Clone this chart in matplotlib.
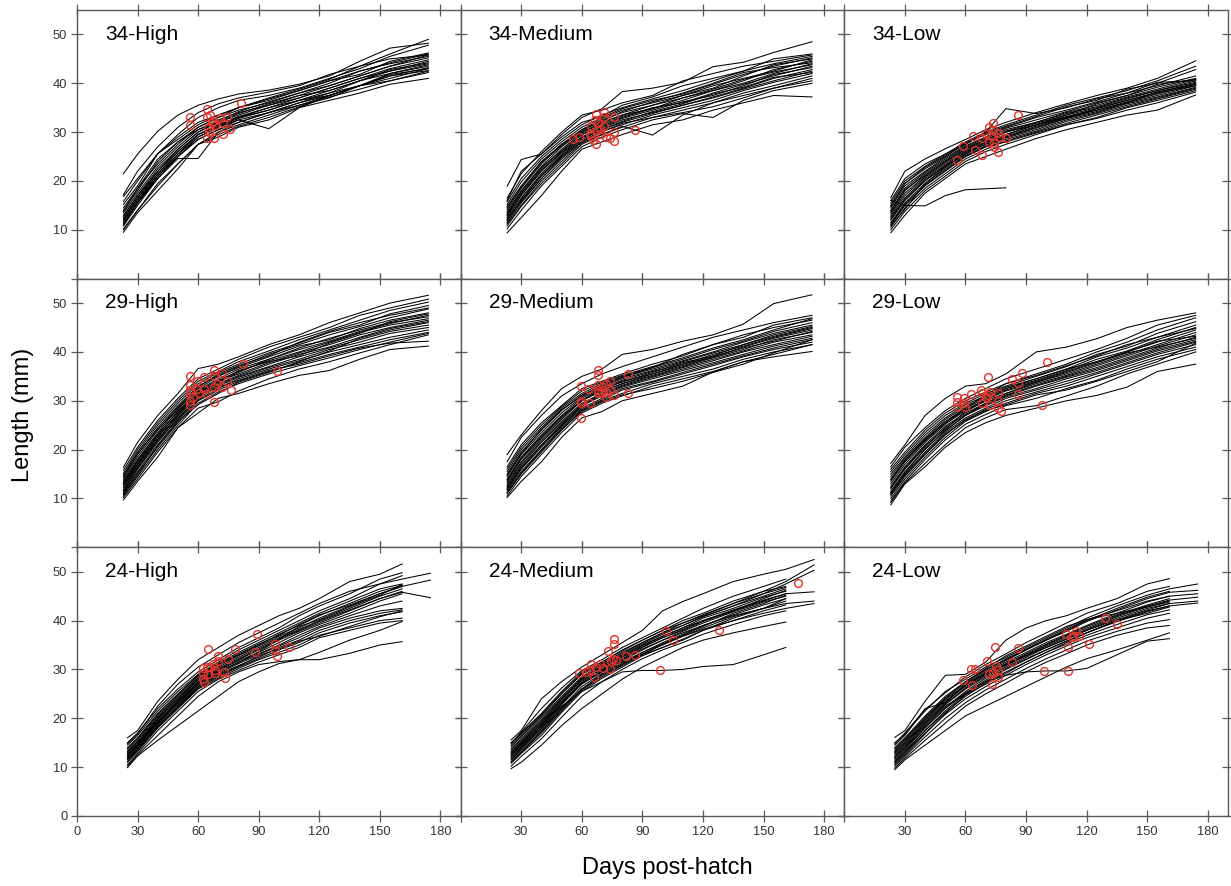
import matplotlib
matplotlib.use("Agg")
import matplotlib.pyplot as plt

plt.rcParams['font.family'] = ['Liberation Sans', 'DejaVu Sans']

# Sampling days of the individual growth trajectories
days_early = [23, 30, 40, 50, 60, 70, 80, 95, 110, 125, 140, 155, 174]
days_late = [25, 30, 40, 50, 60, 70, 80, 90, 100, 110, 120, 135, 150, 161, 175]

# ---- 34 degC -------------------------------------------------------------
len_34_high = [
    [21.5, 25.5, 30.2, 33.5, 35.5, 36.8, 37.8, 38.6, 39.8, 41.5, 44.5, 47.2, 48.2],
    [17.2, 22.0, 27.0, 31.0, 34.0, 35.8, 37.0, 38.2, 39.5, 41.8, 43.5, 46.0, 49.0],
    [16.8, 20.5, 25.6, 29.5, 33.0, 35.0, 36.5, 37.5, 39.0, 41.0, 43.0, 45.5, 47.8],
    [15.2, 19.0, 25.6, 28.5, 31.5, 33.5, 35.0, 36.5, 38.5, 40.5, 42.5, 44.2, 46.0],
    [14.5, 18.5, 23.5, 27.5, 31.0, 33.0, 34.5, 36.0, 38.0, 40.0, 42.5, 44.0, 45.5],
    [14.0, 18.0, 24.0, 28.0, 30.5, 32.5, 34.0, 35.5, 37.5, 39.5, 41.5, 43.5, 45.2],
    [13.5, 17.5, 23.0, 27.0, 30.5, 32.0, 33.5, 35.5, 37.0, 39.0, 41.0, 43.0, 44.8],
    [13.0, 17.0, 22.5, 26.5, 30.0, 32.0, 33.8, 35.8, 37.5, 38.5, 40.5, 42.5, 44.5],
    [12.5, 16.5, 22.0, 26.0, 29.5, 31.5, 33.0, 34.5, 36.5, 38.5, 40.5, 42.8, 44.2],
    [12.2, 16.5, 21.5, 26.0, 29.5, 31.5, 33.2, 35.0, 36.5, 37.5, 39.5, 42.0, 43.8],
    [12.0, 16.0, 21.5, 25.5, 29.0, 31.0, 32.5, 34.0, 36.0, 38.0, 40.5, 42.0, 43.5],
    [11.5, 15.5, 21.0, 25.0, 29.0, 31.0, 32.8, 34.5, 36.5, 38.0, 39.5, 41.5, 43.2],
    [11.2, 15.5, 21.0, 25.0, 28.5, 30.5, 32.0, 34.0, 35.5, 37.5, 39.5, 41.0, 43.0],
    [11.0, 15.5, 20.5, 24.6, 24.6, 30.0, 32.0, 34.0, 36.0, 37.5, 39.5, 41.5, 42.6],
    [10.8, 15.0, 20.5, 25.0, 28.5, 30.5, 32.5, 30.7, 35.0, 37.5, 39.5, 41.8, 43.0],
    [10.2, 14.0, 19.5, 23.5, 27.5, 30.0, 31.5, 33.5, 35.5, 37.0, 39.5, 40.5, 42.2],
    [9.5, 13.5, 18.0, 22.5, 27.5, 29.0, 31.0, 32.5, 35.0, 36.5, 38.0, 39.8, 41.0],
    [12.8, 17.0, 22.0, 26.5, 30.0, 32.2, 34.2, 36.2, 38.0, 39.5, 41.5, 43.5, 45.8],
    [13.8, 18.5, 24.5, 28.0, 31.0, 33.0, 35.0, 36.8, 38.5, 40.5, 41.8, 44.5, 46.2],
    [11.8, 16.0, 21.0, 25.5, 29.5, 31.2, 33.0, 35.0, 37.0, 39.0, 41.0, 42.5, 44.0],
    [15.8, 20.0, 25.6, 29.0, 32.0, 33.5, 35.0, 37.0, 38.8, 40.8, 43.5, 45.0, 45.8],
    [10.0, 14.0, 19.0, 23.5, 27.5, 29.5, 31.2, 33.0, 35.2, 37.2, 38.8, 40.5, 42.5],
]
obs_34_high_day = [55.9, 55.9, 64.2, 64.2, 64.5, 65.0, 65.5, 67.5, 68.0, 68.3, 70.8, 72.1,
                   72.1, 74.1, 75.7, 81.0, 66.0, 66.8]
obs_34_high_len = [33.0, 31.4, 34.8, 33.0, 28.7, 30.9, 30.1, 32.3, 28.7, 31.4, 32.8, 31.8,
                   29.7, 33.1, 30.7, 36.0, 33.5, 31.8]

len_34_medium = [
    [18.9, 24.4, 25.5, 29.5, 33.0, 34.8, 38.3, 39.0, 40.2, 43.4, 44.3, 46.3, 48.5],
    [16.5, 21.5, 26.0, 30.0, 33.5, 34.5, 36.0, 37.5, 40.5, 42.0, 43.5, 44.5, 45.8],
    [15.8, 20.5, 25.0, 28.5, 31.5, 33.5, 35.0, 36.8, 38.5, 40.5, 42.5, 44.0, 45.5],
    [15.2, 19.8, 24.5, 28.0, 31.0, 33.0, 34.8, 36.5, 37.8, 39.8, 41.8, 43.5, 45.2],
    [14.8, 19.0, 24.0, 27.5, 30.5, 32.8, 34.5, 36.0, 37.5, 39.0, 41.5, 43.8, 45.0],
    [14.2, 18.5, 23.5, 27.5, 30.2, 32.5, 34.0, 35.5, 37.5, 39.5, 41.0, 42.5, 44.8],
    [13.8, 18.0, 23.0, 27.0, 30.0, 32.0, 33.5, 35.5, 37.0, 38.5, 40.5, 42.8, 44.5],
    [13.5, 17.5, 22.5, 26.5, 29.8, 31.8, 33.5, 34.8, 36.5, 38.5, 40.0, 42.0, 44.0],
    [13.0, 17.2, 22.2, 26.0, 29.5, 31.5, 33.2, 35.0, 36.0, 38.0, 39.8, 41.5, 43.5],
    [12.8, 17.0, 22.0, 25.8, 29.0, 31.0, 32.8, 34.5, 36.2, 37.5, 39.5, 41.8, 43.2],
    [12.5, 16.5, 21.5, 25.5, 29.0, 30.8, 32.5, 34.0, 35.5, 37.2, 39.0, 41.0, 42.8],
    [12.2, 16.0, 21.0, 25.0, 28.5, 30.5, 32.0, 33.8, 35.5, 37.0, 38.8, 40.5, 42.5],
    [12.0, 15.8, 20.5, 24.8, 28.2, 30.2, 31.5, 33.5, 35.0, 36.5, 38.5, 40.2, 42.0],
    [11.5, 15.5, 20.5, 24.5, 28.0, 30.0, 31.8, 33.0, 34.5, 36.0, 38.0, 39.5, 41.5],
    [11.2, 15.0, 20.0, 24.0, 27.8, 29.5, 31.2, 29.4, 33.5, 36.0, 37.5, 39.0, 41.0],
    [10.8, 14.8, 19.5, 23.5, 27.5, 29.5, 31.0, 33.0, 34.0, 35.2, 37.0, 39.0, 40.5],
    [10.2, 14.0, 19.0, 23.0, 27.0, 29.0, 30.5, 32.5, 33.8, 33.0, 36.5, 38.5, 40.0],
    [9.4, 12.5, 17.0, 22.0, 26.5, 28.0, 29.5, 31.5, 32.5, 34.5, 36.0, 37.5, 37.2],
    [14.5, 18.8, 23.8, 27.2, 30.5, 32.2, 34.2, 36.2, 38.0, 40.0, 42.2, 43.2, 44.2],
    [13.2, 17.8, 22.8, 26.2, 29.5, 31.2, 33.0, 34.8, 37.0, 38.8, 40.8, 42.3, 43.8],
    [11.8, 16.2, 21.2, 25.2, 28.8, 30.5, 32.2, 34.2, 35.8, 37.8, 39.2, 41.2, 42.2],
    [16.0, 22.0, 25.5, 29.0, 32.0, 33.2, 35.5, 37.2, 39.5, 41.0, 42.5, 45.0, 46.0],
]
obs_34_medium_day = [55.6, 58.6, 66.8, 70.8, 70.8, 75.7, 64.7, 66.3, 67.5, 63.9, 64.7, 65.5,
                     66.8, 68.8, 70.8, 71.8, 73.8, 75.7, 75.7, 86.1, 68.0, 69.6]
obs_34_medium_len = [28.5, 29.0, 33.7, 34.2, 33.1, 33.1, 31.2, 32.4, 30.4, 29.7, 29.2, 28.3,
                     27.5, 30.7, 31.2, 29.0, 28.7, 30.1, 28.2, 30.4, 31.9, 29.7]

len_34_low = [
    [16.6, 22.0, 24.5, 26.6, 28.5, 30.5, 32.0, 34.0, 35.8, 37.5, 39.0, 41.0, 44.6],
    [16.0, 20.5, 23.5, 25.5, 28.0, 30.0, 31.5, 33.5, 35.5, 37.0, 38.5, 40.5, 43.5],
    [15.5, 20.0, 23.0, 25.5, 27.5, 29.8, 31.2, 33.2, 35.2, 36.5, 38.8, 40.0, 42.8],
    [15.0, 19.5, 22.5, 25.0, 27.8, 29.5, 31.0, 33.0, 34.5, 36.2, 38.0, 39.5, 41.5],
    [14.5, 19.0, 22.0, 24.8, 27.2, 29.0, 30.8, 32.5, 34.2, 36.0, 37.5, 39.2, 41.0],
    [14.0, 18.5, 21.8, 24.5, 27.0, 28.8, 30.5, 32.0, 34.0, 35.5, 37.2, 38.8, 40.8],
    [13.5, 18.0, 21.5, 24.2, 26.8, 28.5, 30.2, 32.0, 33.8, 35.2, 37.0, 38.5, 40.5],
    [13.2, 17.5, 21.0, 23.8, 26.5, 28.2, 30.0, 31.8, 33.5, 35.0, 36.8, 38.5, 40.2],
    [12.8, 17.0, 20.8, 23.5, 26.2, 28.0, 29.5, 31.5, 33.2, 34.8, 36.5, 38.2, 40.0],
    [12.5, 16.5, 20.5, 23.2, 26.0, 27.8, 29.2, 31.2, 33.0, 34.5, 36.2, 37.8, 39.8],
    [12.0, 16.0, 20.0, 23.0, 25.5, 27.5, 29.0, 31.0, 32.8, 34.2, 36.0, 37.5, 39.5],
    [11.5, 15.5, 19.5, 22.5, 25.2, 27.2, 28.8, 30.5, 32.5, 34.0, 35.8, 37.2, 39.2],
    [11.0, 15.0, 19.0, 22.0, 25.0, 27.0, 28.5, 30.2, 32.2, 33.8, 35.5, 37.0, 39.0],
    [10.5, 14.5, 18.5, 21.5, 24.5, 26.5, 28.2, 30.0, 31.8, 33.5, 35.2, 36.8, 38.8],
    [10.0, 13.8, 18.0, 21.0, 24.0, 26.0, 27.5, 29.5, 31.5, 33.0, 35.0, 36.5, 38.5],
    [9.4, 13.0, 17.5, 20.5, 23.5, 25.0, 26.5, 28.7, 30.5, 32.0, 33.5, 34.5, 37.6],
    [14.8, 19.5, 22.8, 25.2, 27.5, 30.0, 34.8, 33.8, 35.0, 36.8, 38.0, 40.2, 40.5],
    [13.8, 18.2, 21.2, 24.0, 26.5, 28.5, 30.0, 31.5, 33.5, 35.8, 37.5, 39.8, 40.8],
    [12.2, 16.2, 20.2, 23.0, 25.8, 27.5, 29.0, 30.8, 32.8, 34.8, 36.5, 38.0, 39.5],
    [11.2, 15.2, 19.2, 22.2, 25.0, 27.0, 28.0, 29.8, 31.5, 32.8, 34.5, 36.0, 38.2],
    [16.0, 15.0, 14.9, 17.0, 18.2, 18.4, 18.6],
    [10.8, 14.2, 19.5, 22.8, 25.5, 28.0, 29.5, 31.5, 33.0, 34.5, 36.0, 38.2, 39.8],
]
obs_34_low_day = [55.8, 58.9, 63.9, 64.9, 68.0, 68.0, 71.5, 73.8, 73.8, 71.8, 72.6, 74.3,
                  74.3, 75.9, 77.1, 80.0, 75.9, 86.0, 70.1]
obs_34_low_len = [24.2, 27.2, 29.2, 26.3, 25.3, 28.7, 31.1, 31.9, 30.5, 28.0, 29.2, 27.7,
                  27.0, 29.9, 29.0, 28.7, 26.0, 33.6, 29.7]

# ---- 29 degC -------------------------------------------------------------
len_29_high = [
    [16.4, 21.5, 27.0, 31.5, 36.6, 37.5, 39.0, 41.5, 43.5, 46.0, 48.0, 50.0, 51.6],
    [15.8, 20.5, 26.0, 30.5, 34.5, 36.5, 38.5, 41.0, 43.0, 45.0, 47.5, 49.0, 50.8],
    [15.2, 20.0, 25.5, 30.0, 34.0, 36.0, 38.0, 40.2, 42.5, 44.5, 46.5, 48.5, 50.2],
    [14.8, 19.5, 25.0, 29.5, 33.5, 35.8, 37.5, 39.8, 41.8, 44.0, 45.5, 47.8, 49.5],
    [14.2, 19.0, 24.5, 29.0, 33.0, 35.2, 37.0, 39.5, 41.5, 43.5, 45.2, 47.0, 48.8],
    [13.8, 18.5, 24.0, 28.8, 32.5, 35.0, 36.8, 39.0, 41.2, 42.5, 44.8, 46.5, 48.0],
    [13.5, 18.0, 23.5, 28.5, 32.2, 34.5, 36.5, 38.5, 40.8, 42.8, 44.5, 46.0, 47.2],
    [13.0, 17.5, 23.0, 28.0, 32.0, 34.2, 36.0, 38.2, 40.0, 42.0, 44.0, 45.5, 46.8],
    [12.5, 17.0, 22.5, 27.5, 31.5, 34.0, 35.5, 37.8, 39.8, 41.5, 43.5, 45.0, 46.5],
    [12.2, 16.8, 22.2, 27.0, 31.2, 33.5, 35.2, 37.5, 39.5, 41.0, 43.0, 44.8, 46.2],
    [11.8, 16.5, 22.0, 26.8, 31.0, 33.2, 35.0, 37.0, 39.0, 40.8, 42.5, 44.2, 45.5],
    [11.5, 16.0, 21.5, 26.5, 30.5, 33.0, 34.8, 36.8, 38.5, 40.5, 42.0, 43.8, 45.0],
    [11.2, 15.5, 21.0, 26.0, 30.2, 32.5, 34.5, 36.5, 38.2, 40.0, 41.5, 43.0, 44.5],
    [11.0, 15.2, 20.5, 25.5, 30.0, 32.2, 34.0, 36.0, 37.8, 39.5, 41.0, 42.5, 44.0],
    [10.5, 14.5, 20.0, 25.0, 29.5, 31.8, 33.5, 35.5, 37.2, 38.8, 40.5, 42.0, 43.8],
    [10.2, 14.0, 19.5, 24.5, 28.5, 29.8, 32.0, 34.5, 36.5, 38.0, 39.8, 41.5, 43.5],
    [9.7, 13.5, 18.5, 24.5, 27.5, 30.5, 31.5, 33.5, 35.2, 36.2, 38.5, 40.5, 41.2],
    [14.5, 19.2, 24.2, 28.2, 32.8, 35.5, 37.2, 39.2, 42.0, 44.2, 46.0, 47.5, 49.0],
    [12.8, 17.2, 22.8, 27.2, 31.8, 33.8, 35.8, 38.5, 40.5, 42.2, 44.2, 45.8, 47.5],
    [11.6, 16.2, 21.8, 26.2, 30.8, 32.8, 34.2, 36.2, 37.5, 39.2, 40.8, 41.8, 42.2],
    [10.8, 14.8, 20.8, 25.8, 29.2, 31.5, 33.8, 35.8, 38.0, 40.2, 42.8, 44.5, 46.0],
    [13.2, 17.8, 23.2, 27.8, 31.5, 33.8, 36.2, 38.0, 39.2, 41.8, 43.8, 46.2, 47.8],
]
obs_29_high_day = [55.9, 55.9, 55.9, 55.9, 55.9, 55.9, 59.2, 59.2, 60.4, 63.0, 63.0, 64.2,
                   68.0, 68.0, 68.0, 68.0, 69.5, 71.6, 71.6, 74.1, 76.1, 82.0, 99.2, 57.6]
obs_29_high_len = [35.0, 33.2, 32.2, 31.5, 30.0, 29.1, 34.0, 32.5, 31.5, 34.9, 32.5, 31.3,
                   36.4, 35.0, 32.8, 29.8, 33.4, 35.7, 32.8, 34.1, 32.2, 37.6, 36.0, 30.7]

len_29_medium = [
    [19.0, 23.0, 28.0, 32.5, 35.0, 36.5, 39.5, 40.5, 42.2, 43.5, 45.7, 49.9, 51.7],
    [17.5, 22.5, 27.0, 31.0, 33.5, 35.5, 37.0, 39.0, 41.0, 43.0, 44.5, 46.0, 47.5],
    [16.5, 21.0, 25.5, 29.0, 32.5, 34.0, 35.5, 37.5, 39.2, 41.5, 43.0, 45.5, 47.0],
    [16.0, 20.5, 25.0, 28.8, 32.0, 33.8, 35.2, 37.0, 38.8, 40.8, 42.5, 44.5, 46.8],
    [15.5, 20.0, 24.5, 28.5, 31.5, 33.5, 35.0, 36.8, 38.5, 40.5, 42.2, 44.2, 46.0],
    [15.0, 19.5, 24.0, 28.0, 31.2, 33.0, 34.8, 36.5, 38.2, 40.0, 42.0, 43.8, 45.5],
    [14.5, 19.0, 23.5, 27.5, 30.8, 32.8, 34.5, 36.2, 38.0, 39.8, 41.5, 43.2, 45.0],
    [14.0, 18.5, 23.0, 27.0, 30.5, 32.5, 34.2, 36.0, 37.5, 39.5, 41.2, 43.0, 44.8],
    [13.5, 18.0, 22.5, 26.5, 30.2, 32.2, 34.0, 35.5, 37.2, 39.0, 41.0, 42.8, 44.5],
    [13.2, 17.5, 22.2, 26.2, 30.0, 32.0, 33.5, 35.2, 37.0, 38.8, 40.5, 42.5, 44.0],
    [12.8, 17.2, 21.8, 25.8, 29.5, 31.5, 33.2, 35.0, 36.8, 38.5, 40.2, 42.0, 43.5],
    [12.5, 16.8, 21.5, 25.5, 29.2, 31.2, 33.0, 34.8, 36.5, 38.2, 40.0, 41.5, 43.2],
    [12.2, 16.5, 21.0, 25.2, 29.0, 31.0, 32.8, 34.5, 36.2, 37.8, 39.5, 41.2, 42.8],
    [11.8, 16.0, 20.5, 24.8, 28.5, 30.5, 32.5, 34.0, 35.8, 37.5, 39.2, 40.8, 42.5],
    [11.5, 15.5, 20.0, 24.5, 28.2, 30.2, 32.2, 33.8, 35.5, 37.2, 39.0, 40.5, 42.0],
    [11.0, 15.0, 19.5, 24.0, 28.0, 30.0, 31.5, 33.5, 35.0, 36.5, 38.5, 40.0, 41.5],
    [10.5, 14.5, 19.0, 23.5, 27.5, 29.5, 31.0, 33.0, 34.5, 36.0, 38.0, 39.5, 41.5],
    [10.2, 13.5, 17.5, 22.5, 26.5, 27.8, 30.0, 31.5, 33.0, 35.9, 38.0, 39.0, 40.1],
    [14.8, 19.2, 24.2, 28.2, 31.0, 33.2, 34.8, 36.8, 39.5, 41.5, 43.5, 45.0, 46.5],
    [13.8, 18.2, 22.8, 26.8, 30.0, 32.5, 33.8, 35.8, 37.8, 39.2, 41.5, 43.5, 45.2],
    [12.0, 16.2, 20.8, 25.0, 28.8, 31.8, 33.5, 35.5, 37.5, 39.0, 40.8, 42.2, 44.2],
    [11.2, 15.2, 19.8, 24.2, 27.8, 29.8, 31.2, 32.5, 34.0, 35.8, 37.5, 39.8, 42.5],
]
obs_29_medium_day = [59.7, 59.7, 59.7, 59.7, 63.0, 63.9, 68.0, 68.0, 68.0, 68.0, 68.0, 70.1,
                     71.8, 71.8, 71.8, 73.8, 73.8, 75.7, 83.0, 83.0, 69.6]
obs_29_medium_len = [33.0, 30.0, 29.6, 26.4, 32.4, 29.6, 36.4, 35.2, 33.2, 32.2, 31.5, 32.8,
                     33.5, 31.8, 30.7, 34.1, 32.3, 31.1, 35.4, 31.6, 31.5]

len_29_low = [
    [17.2, 21.0, 27.0, 30.5, 33.0, 33.5, 35.5, 40.0, 41.0, 42.7, 45.0, 46.5, 48.0],
    [16.5, 20.5, 24.5, 28.0, 30.5, 32.5, 34.5, 36.5, 38.5, 40.5, 42.8, 45.5, 47.5],
    [16.0, 19.5, 24.0, 27.5, 30.0, 31.8, 33.5, 35.5, 37.5, 40.0, 42.0, 44.5, 47.0],
    [15.5, 19.0, 23.5, 27.0, 29.5, 31.5, 33.0, 35.0, 37.0, 39.5, 41.2, 43.8, 46.2],
    [15.0, 18.5, 23.0, 26.5, 29.2, 31.0, 32.8, 34.5, 36.5, 39.0, 40.8, 43.0, 45.5],
    [14.5, 18.2, 22.5, 26.2, 28.8, 30.8, 32.5, 34.2, 36.2, 38.5, 40.2, 42.5, 45.0],
    [14.0, 17.8, 22.2, 25.8, 28.5, 30.5, 32.2, 34.0, 36.0, 38.0, 40.0, 42.0, 44.5],
    [13.5, 17.5, 21.8, 25.5, 28.2, 30.2, 32.0, 33.8, 35.5, 37.5, 39.5, 41.5, 44.0],
    [13.0, 17.0, 21.5, 25.2, 28.0, 30.0, 31.5, 33.5, 35.2, 37.2, 39.2, 41.2, 43.5],
    [12.5, 16.5, 21.0, 24.8, 27.5, 29.5, 31.2, 33.2, 35.0, 36.8, 38.8, 40.8, 43.0],
    [12.0, 16.0, 20.5, 24.5, 27.2, 29.2, 31.0, 33.0, 34.8, 36.5, 38.5, 40.5, 42.5],
    [11.5, 15.5, 20.0, 24.0, 27.0, 29.0, 30.8, 32.5, 34.5, 36.2, 38.2, 40.2, 42.2],
    [11.0, 15.0, 19.5, 23.5, 26.5, 28.5, 30.5, 32.2, 34.0, 35.8, 37.8, 39.8, 42.0],
    [10.5, 14.5, 19.0, 23.0, 26.2, 28.2, 30.0, 31.8, 33.5, 35.5, 37.5, 39.5, 41.5],
    [10.0, 14.0, 18.5, 22.5, 25.8, 27.8, 29.5, 31.5, 33.0, 35.0, 37.0, 39.0, 41.0],
    [9.5, 13.5, 18.0, 22.0, 25.2, 27.2, 29.0, 30.5, 32.5, 34.2, 36.5, 38.5, 40.5],
    [8.7, 13.0, 16.5, 20.5, 23.5, 25.5, 27.0, 28.5, 30.0, 31.1, 32.8, 36.0, 37.5],
    [9.2, 13.2, 17.2, 21.0, 24.5, 26.5, 28.2, 29.0, 31.0, 33.0, 35.5, 37.5, 40.0],
    [13.8, 17.8, 22.0, 25.5, 28.5, 31.2, 33.5, 35.2, 37.2, 39.2, 41.5, 43.0, 44.8],
    [12.2, 16.2, 20.8, 24.2, 27.8, 30.0, 32.5, 34.5, 36.5, 38.0, 40.0, 42.2, 43.2],
    [11.2, 15.2, 20.2, 23.8, 27.0, 29.5, 31.5, 33.8, 35.8, 37.8, 39.8, 41.0, 42.8],
    [10.8, 14.8, 19.2, 23.2, 26.0, 28.0, 29.2, 31.2, 32.2, 34.0, 36.0, 38.0, 41.8],
]
obs_29_low_day = [55.8, 55.8, 55.8, 59.4, 59.4, 59.9, 62.7, 67.7, 68.0, 68.2, 71.0, 71.0,
                  72.1, 72.1, 75.9, 75.9, 75.9, 77.7, 82.8, 85.8, 88.0, 86.0, 97.9, 100.2, 70.1]
obs_29_low_len = [30.8, 29.8, 28.8, 30.5, 29.6, 28.8, 31.3, 32.2, 31.6, 29.6, 34.8, 31.1,
                  31.8, 29.2, 31.6, 30.0, 28.6, 27.9, 34.5, 33.7, 35.6, 31.3, 29.1, 38.0, 30.7]

# ---- 24 degC -------------------------------------------------------------
len_24_high = [
    [16.0, 17.5, 23.5, 28.0, 32.0, 34.5, 37.0, 39.0, 41.0, 42.5, 44.5, 48.0, 49.5, 51.6],
    [15.0, 17.0, 22.0, 26.0, 29.5, 32.0, 34.5, 36.5, 38.5, 41.0, 43.0, 45.5, 48.5, 49.8],
    [14.5, 16.5, 21.5, 25.5, 29.0, 31.5, 34.0, 36.0, 38.0, 40.0, 42.0, 44.5, 47.5, 49.2],
    [14.0, 16.0, 21.0, 25.0, 28.8, 31.2, 33.5, 35.5, 37.5, 39.5, 41.5, 44.0, 46.5, 47.5],
    [13.5, 15.5, 20.5, 24.5, 28.5, 31.0, 33.0, 35.0, 37.2, 39.0, 41.0, 43.5, 46.0, 47.2],
    [13.2, 15.2, 20.2, 24.2, 28.2, 30.8, 32.8, 34.8, 36.8, 38.5, 40.5, 43.0, 45.5, 47.0],
    [13.0, 15.0, 20.0, 24.0, 28.0, 30.5, 32.5, 34.5, 36.5, 38.2, 40.0, 42.5, 45.0, 46.5],
    [12.5, 14.8, 19.5, 23.5, 27.5, 30.0, 32.0, 34.0, 36.0, 37.8, 39.5, 42.0, 44.5, 46.0],
    [12.2, 14.5, 19.2, 23.2, 27.2, 29.8, 31.8, 33.5, 35.5, 37.5, 39.2, 41.5, 44.0, 45.5],
    [12.0, 14.2, 19.0, 23.0, 27.0, 29.5, 31.5, 33.2, 35.0, 37.0, 38.8, 41.0, 43.0, 44.0],
    [11.8, 14.0, 18.8, 22.8, 26.8, 29.2, 31.2, 33.0, 34.8, 36.5, 38.5, 40.5, 42.0, 42.5],
    [11.5, 13.8, 18.5, 22.5, 26.5, 29.0, 30.8, 32.5, 34.5, 36.0, 38.0, 40.0, 41.5, 42.2],
    [11.2, 13.5, 18.2, 22.2, 26.2, 28.5, 30.5, 32.2, 34.0, 35.5, 37.5, 39.5, 41.0, 41.8],
    [11.0, 13.2, 18.0, 22.0, 26.0, 28.2, 30.2, 32.0, 33.5, 35.0, 37.0, 38.5, 40.0, 40.5],
    [10.5, 12.8, 17.5, 21.5, 25.5, 28.0, 29.8, 31.5, 33.0, 34.5, 36.5, 38.0, 39.5, 40.0],
    [10.2, 12.5, 16.5, 20.5, 24.5, 27.5, 29.5, 31.0, 31.6, 32.0, 33.5, 36.0, 38.0, 39.8],
    [9.9, 12.3, 15.5, 18.5, 21.5, 24.5, 27.5, 29.5, 31.2, 32.0, 32.0, 33.3, 35.0, 35.7],
    [14.8, 16.8, 22.5, 27.0, 30.5, 33.0, 35.5, 37.5, 39.5, 41.5, 43.5, 46.0, 47.5, 48.5, 49.7],
    [13.8, 15.8, 20.8, 24.8, 28.8, 31.0, 33.2, 35.2, 37.0, 39.2, 41.2, 43.2, 45.5, 47.0, 48.3],
    [12.8, 14.6, 19.8, 23.8, 27.8, 30.2, 32.2, 34.2, 36.2, 38.0, 39.8, 42.2, 44.5, 45.8, 44.7],
    [12.4, 14.4, 19.4, 23.4, 27.4, 29.6, 31.4, 33.6, 36.2, 38.8, 40.2, 42.8, 45.2, 47.4],
    [11.6, 13.6, 18.4, 22.4, 26.4, 28.8, 30.6, 32.8, 34.2, 35.8, 36.8, 38.8, 40.8, 42.0],
]
obs_24_high_day = [65.0, 62.5, 62.5, 62.5, 62.9, 64.5, 65.0, 67.5, 68.3, 68.3, 70.0, 70.0,
                   72.8, 73.3, 74.6, 78.2, 88.1, 88.9, 98.0, 98.0, 98.8, 105.1, 65.8]
obs_24_high_len = [34.1, 30.2, 29.3, 28.1, 27.5, 30.5, 29.0, 31.1, 29.8, 29.3, 32.7, 31.8,
                   29.5, 28.3, 32.2, 34.1, 33.6, 37.2, 35.2, 33.9, 32.8, 34.5, 30.5]

len_24_medium = [
    [15.6, 17.5, 24.0, 27.5, 30.5, 33.0, 35.5, 38.0, 42.0, 43.9, 45.5, 48.0, 49.5, 50.5, 52.5],
    [15.0, 17.0, 21.0, 25.5, 29.5, 31.5, 34.0, 36.0, 38.0, 39.5, 41.0, 43.5, 46.0, 48.0, 51.4],
    [14.5, 16.5, 20.5, 25.0, 29.0, 31.2, 33.5, 35.5, 37.5, 39.0, 40.8, 43.0, 45.5, 47.5, 50.3],
    [13.5, 15.5, 19.5, 24.0, 28.2, 30.5, 32.8, 35.0, 36.8, 38.5, 40.0, 42.0, 44.0, 45.5, 45.9],
    [12.5, 14.5, 18.5, 23.0, 27.2, 29.8, 32.0, 34.2, 36.0, 37.5, 39.0, 41.0, 42.5, 43.5, 44.0],
    [11.5, 13.5, 17.5, 22.0, 26.0, 29.0, 31.2, 33.5, 35.2, 36.8, 38.2, 40.0, 41.5, 42.5, 43.5],
    [15.0, 16.8, 20.8, 25.2, 29.2, 31.5, 33.8, 36.0, 38.0, 40.0, 41.5, 44.0, 46.0, 47.0],
    [14.2, 16.2, 20.2, 24.5, 28.5, 31.0, 33.2, 35.5, 37.5, 39.5, 41.2, 43.5, 45.5, 46.8],
    [13.8, 15.8, 19.8, 24.2, 28.2, 30.8, 33.0, 35.2, 37.2, 39.0, 40.8, 43.0, 45.0, 46.5],
    [13.2, 15.2, 19.2, 23.8, 28.0, 30.5, 32.5, 34.8, 36.8, 38.5, 40.5, 42.5, 44.8, 46.0],
    [12.8, 14.8, 18.8, 23.2, 27.5, 30.2, 32.2, 34.5, 36.5, 38.2, 40.0, 42.2, 44.2, 45.5],
    [12.2, 14.2, 18.2, 22.8, 27.0, 29.5, 31.8, 34.0, 36.0, 37.8, 39.5, 41.8, 43.8, 45.0],
    [11.8, 13.8, 17.8, 22.2, 26.5, 29.2, 31.5, 33.5, 35.5, 37.2, 39.0, 41.2, 43.2, 44.5],
    [11.2, 13.2, 17.2, 21.8, 26.0, 28.8, 31.0, 33.2, 35.0, 36.8, 38.5, 40.8, 42.5, 44.0],
    [10.8, 12.8, 16.5, 21.2, 25.5, 28.2, 30.5, 32.8, 34.5, 36.2, 38.0, 40.0, 42.0, 43.2],
    [10.2, 12.2, 15.8, 20.2, 24.5, 27.5, 30.0, 32.2, 34.0, 35.5, 37.2, 39.2, 41.0, 42.0],
    [9.7, 11.0, 14.5, 18.5, 22.0, 25.0, 28.0, 30.5, 32.5, 34.5, 36.0, 37.5, 38.8, 39.7],
    [12.0, 14.0, 18.0, 22.5, 25.5, 27.5, 29.5, 29.8, 29.8, 30.0, 30.6, 31.0, 33.0, 34.5],
    [14.8, 17.2, 22.0, 26.2, 29.8, 32.0, 34.5, 36.5, 38.5, 40.5, 42.5, 45.0, 47.0, 48.5],
    [13.0, 15.0, 19.0, 23.5, 27.8, 30.0, 31.5, 33.0, 34.5, 36.0, 38.0, 40.5, 42.5, 44.5],
    [12.5, 14.5, 18.5, 23.0, 27.3, 29.6, 32.6, 34.6, 36.5, 38.0, 39.8, 42.0, 44.5, 46.2],
    [11.0, 13.0, 17.0, 21.5, 25.8, 28.5, 30.8, 33.0, 35.2, 37.0, 38.8, 41.5, 43.5, 45.2],
]
obs_24_medium_day = [58.6, 62.2, 63.5, 64.7, 65.8, 66.8, 68.8, 70.5, 72.9, 74.1, 74.6, 75.4,
                     75.7, 75.7, 76.7, 82.0, 86.1, 98.8, 101.8, 105.1, 127.9, 167.0]
obs_24_medium_len = [29.3, 29.5, 29.9, 31.1, 28.5, 30.5, 31.1, 30.2, 33.8, 30.0, 31.8, 32.2,
                     35.2, 36.3, 32.0, 32.7, 32.9, 29.8, 37.8, 36.0, 38.1, 47.6]

len_24_low = [
    [16.1, 17.5, 23.5, 28.8, 29.0, 31.5, 36.0, 38.5, 40.0, 41.0, 42.5, 44.5, 47.5, 48.6],
    [15.0, 16.8, 21.5, 25.5, 28.0, 30.5, 32.5, 34.5, 36.5, 38.5, 40.5, 43.0, 45.2, 46.5, 47.5],
    [14.0, 16.0, 20.5, 24.5, 27.5, 30.0, 32.0, 34.0, 36.0, 37.8, 39.8, 42.2, 44.5, 45.8, 46.2],
    [13.2, 15.2, 19.8, 23.8, 26.8, 29.2, 31.5, 33.5, 35.5, 37.2, 39.0, 41.5, 43.8, 45.0, 45.5],
    [12.5, 14.5, 19.0, 23.0, 26.2, 28.8, 31.0, 33.0, 35.0, 36.8, 38.5, 41.0, 43.0, 44.2, 44.8],
    [11.8, 13.8, 18.2, 22.2, 25.5, 28.2, 30.5, 32.5, 34.5, 36.2, 38.0, 40.5, 42.5, 43.5, 44.0],
    [11.0, 13.0, 17.5, 21.5, 25.0, 27.5, 30.0, 32.0, 34.0, 35.8, 37.5, 40.0, 42.0, 43.0, 43.6],
    [14.5, 16.5, 22.0, 23.2, 27.0, 29.5, 31.8, 34.0, 36.0, 38.0, 40.0, 42.5, 44.8, 46.0],
    [13.8, 15.8, 20.0, 24.0, 27.2, 29.8, 32.2, 34.2, 36.2, 38.2, 40.2, 42.0, 44.0, 45.0],
    [13.0, 15.0, 19.5, 23.5, 26.5, 29.0, 31.2, 33.2, 35.2, 37.0, 38.8, 41.2, 43.2, 44.5],
    [12.8, 14.8, 19.2, 23.2, 26.8, 29.2, 31.0, 32.8, 34.8, 36.5, 38.2, 40.8, 42.8, 44.0],
    [12.2, 14.2, 18.8, 22.8, 26.0, 28.5, 30.8, 32.8, 34.5, 36.2, 38.0, 40.2, 42.2, 43.5],
    [11.5, 13.5, 18.0, 22.0, 25.2, 27.8, 30.2, 32.2, 34.0, 35.8, 37.5, 39.8, 41.8, 43.0],
    [11.2, 13.2, 17.5, 21.2, 24.5, 27.2, 29.5, 31.5, 33.5, 35.2, 37.0, 39.2, 41.2, 42.2],
    [10.8, 12.8, 17.0, 20.8, 24.0, 26.5, 28.8, 31.0, 33.0, 34.8, 36.5, 38.5, 40.5, 41.5],
    [10.2, 12.2, 16.2, 20.0, 23.2, 25.8, 28.0, 30.2, 32.2, 34.0, 35.8, 37.8, 39.5, 40.2],
    [9.8, 11.8, 15.5, 19.0, 22.5, 25.0, 27.2, 29.5, 31.5, 33.2, 35.0, 37.0, 38.5, 39.0],
    [9.5, 11.5, 14.5, 17.5, 20.5, 22.5, 24.5, 26.5, 28.5, 30.5, 32.2, 34.0, 36.0, 37.5],
    [12.0, 14.0, 18.5, 22.5, 25.0, 27.5, 28.8, 29.5, 29.7, 29.7, 30.2, 33.0, 35.8, 36.3],
    [14.8, 17.0, 21.8, 25.2, 28.5, 31.0, 33.2, 35.5, 37.5, 39.5, 41.5, 43.5, 46.0, 47.0],
    [13.5, 15.5, 20.2, 24.2, 27.5, 30.2, 32.8, 34.8, 36.8, 38.8, 40.2, 41.5, 42.8, 43.8],
    [10.5, 12.5, 16.8, 21.0, 24.8, 27.0, 29.2, 31.5, 33.5, 35.5, 37.5, 40.0, 41.5, 42.8],
]
obs_24_low_day = [58.9, 62.7, 63.0, 64.9, 70.6, 71.8, 72.9, 73.4, 74.8, 75.1, 75.9, 76.2,
                  83.0, 86.0, 99.0, 109.7, 110.9, 110.9, 112.7, 113.9, 114.7, 116.0, 121.0,
                  129.0, 134.8]
obs_24_low_len = [27.9, 30.0, 26.8, 30.0, 31.8, 29.0, 27.0, 29.3, 34.5, 30.7, 29.8, 28.5,
                  31.5, 34.3, 29.7, 37.2, 34.5, 29.7, 36.7, 36.8, 37.9, 36.8, 35.3, 40.6, 39.4]

panel_titles = ["34-High", "34-Medium", "34-Low",
                "29-High", "29-Medium", "29-Low",
                "24-High", "24-Medium", "24-Low"]
x_ticks = [0, 30, 60, 90, 120, 150, 180]
y_ticks = [0, 10, 20, 30, 40, 50]

panels = [
    (days_early, len_34_high, obs_34_high_day, obs_34_high_len),
    (days_early, len_34_medium, obs_34_medium_day, obs_34_medium_len),
    (days_early, len_34_low, obs_34_low_day, obs_34_low_len),
    (days_early, len_29_high, obs_29_high_day, obs_29_high_len),
    (days_early, len_29_medium, obs_29_medium_day, obs_29_medium_len),
    (days_early, len_29_low, obs_29_low_day, obs_29_low_len),
    (days_late, len_24_high, obs_24_high_day, obs_24_high_len),
    (days_late, len_24_medium, obs_24_medium_day, obs_24_medium_len),
    (days_late, len_24_low, obs_24_low_day, obs_24_low_len),
]

W, H = 1231, 886
fig = plt.figure(figsize=(W / 100, H / 100), dpi=100)
left, right = 77 / W, 1228 / W
bottom, top = 1 - 816 / H, 1 - 10 / H
pw = (right - left) / 3
ph = (top - bottom) / 3

frame_col = '#5a5a5a'
red = '#e0342c'

for i, (title, (days, lines, od, ol)) in enumerate(zip(panel_titles, panels)):
    r, c = divmod(i, 3)
    ax = fig.add_axes([left + c * pw, top - (r + 1) * ph, pw, ph])
    for vals in lines:
        ax.plot(days[:len(vals)], vals, color='black', lw=0.75, solid_joinstyle='miter')
    ax.plot(od, ol, linestyle='none', marker='o', mfc='none', mec=red,
            ms=5.6, mew=1.0, zorder=5)
    ax.set_xlim(0, 190)
    ax.set_ylim(0, 55)

    ax.set_xticks(x_ticks)
    ax.set_yticks(y_ticks)
    if r == 2:
        xl = [str(t) for t in x_ticks]
        if c > 0:
            xl[0] = ''
        ax.set_xticklabels(xl)
    if c == 0:
        yl = [str(t) for t in y_ticks]
        if r < 2:
            yl[0] = ''
        ax.set_yticklabels(yl)

    ax.tick_params(axis='both', direction='inout', length=8, width=0.9,
                   color=frame_col, top=True, right=True,
                   labelbottom=(r == 2), labelleft=(c == 0),
                   labelsize=9.3, labelcolor='#333333', pad=3)
    for sp in ax.spines.values():
        sp.set_color(frame_col)
        sp.set_linewidth(1.0)

    ax.text(0.073, 0.91, title, transform=ax.transAxes, fontsize=15,
            ha='left', va='center', color='black')

fig.text(22.5 / W, 1 - 415 / H, 'Length (mm)', rotation=90, fontsize=17,
         ha='center', va='center')
fig.text(667 / W, 1 - 868 / H, 'Days post-hatch', fontsize=17,
         ha='center', va='center')

fig.savefig('out.png', dpi=100)
